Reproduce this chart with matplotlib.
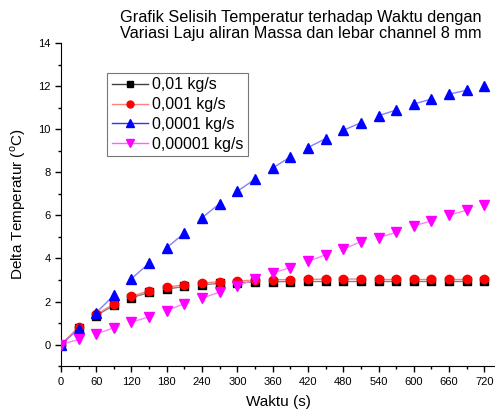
import matplotlib
matplotlib.use("Agg")
import matplotlib.pyplot as plt
from matplotlib.lines import Line2D
from matplotlib.ticker import MultipleLocator

plt.rcParams['font.family'] = ['Liberation Sans', 'DejaVu Sans']

# data (waktu dalam detik)
waktu = [0, 30, 60, 90, 120, 150, 180, 210, 240, 270, 300, 330, 360,
         390, 420, 450, 480, 510, 540, 570, 600, 630, 660, 690, 720]
dt_001 = [0, 0.75, 1.35, 1.82, 2.18, 2.42, 2.58, 2.70, 2.78, 2.84, 2.88, 2.91, 2.92,
          2.93, 2.94, 2.94, 2.95, 2.95, 2.95, 2.95, 2.95, 2.95, 2.95, 2.95, 2.95]
dt_0001 = [0, 0.81, 1.40, 1.88, 2.24, 2.50, 2.66, 2.78, 2.86, 2.92, 2.96, 2.99, 3.01,
           3.02, 3.03, 3.04, 3.04, 3.05, 3.05, 3.05, 3.05, 3.05, 3.05, 3.05, 3.05]
dt_00001 = [0, 0.72, 1.48, 2.29, 3.06, 3.78, 4.50, 5.18, 5.89, 6.55, 7.12, 7.68, 8.20,
            8.71, 9.15, 9.56, 9.95, 10.30, 10.63, 10.89, 11.17, 11.40, 11.63, 11.81, 12.02]
dt_000001 = [0, 0.24, 0.50, 0.78, 1.04, 1.29, 1.58, 1.90, 2.16, 2.44, 2.70, 3.06, 3.32,
             3.58, 3.86, 4.17, 4.43, 4.78, 4.97, 5.21, 5.52, 5.74, 6.01, 6.24, 6.50]
labels = ["0,01 kg/s", "0,001 kg/s", "0,0001 kg/s", "0,00001 kg/s"]

seri = [
    (dt_001, "s", 5.5, "black", "#808080", "#404040"),
    (dt_0001, "o", 6, "red", "#ff8080", "#ff8080"),
    (dt_00001, "^", 6.5, "blue", "#8080ff", "#3030ff"),
    (dt_000001, "v", 6.5, "magenta", "#ff80ff", "#ff60ff"),
]

fig = plt.figure(figsize=(4.95, 4.18), dpi=100)
ax = fig.add_axes([0.123, 0.124, 0.877, 0.773])

handles = []
for (y, m, ms, c, lc, lgc), lab in zip(seri, labels):
    # garis hanya antar pasangan titik
    for i in range(0, len(waktu) - 1, 2):
        ax.plot(waktu[i:i+2], y[i:i+2], color=lc, lw=1, zorder=2)
    ax.plot(waktu, y, ls="none", marker=m, ms=ms, mfc=c, mec=c, zorder=3)
    handles.append(Line2D([], [], color=lgc, lw=1, marker=m, ms=ms - 1,
                          mfc=c, mec=c))

ax.set_xlim(0, 738)
ax.set_ylim(-1, 14)
ax.xaxis.set_major_locator(MultipleLocator(60))
ax.xaxis.set_minor_locator(MultipleLocator(30))
ax.yaxis.set_major_locator(MultipleLocator(2))
ax.yaxis.set_minor_locator(MultipleLocator(1))
ax.tick_params(which="major", direction="out", length=4, width=1, labelsize=8)
ax.tick_params(which="minor", direction="out", length=2, width=1)
ax.spines["top"].set_visible(False)
ax.spines["right"].set_visible(False)

ax.set_xlabel("Waktu (s)", fontsize=11, labelpad=6)
ax.set_ylabel(r"Delta Temperatur ($^{\mathregular{o}}$C)", fontsize=11, labelpad=7)

leg = ax.legend(handles, labels, loc="upper left", bbox_to_anchor=(0.216, 0.826),
                bbox_transform=fig.transFigure, fontsize=11.4, frameon=True,
                fancybox=False, edgecolor="#555555", handlelength=2.3,
                handletextpad=0.25, borderpad=0.3, labelspacing=0.3,
                borderaxespad=0)
leg.get_frame().set_linewidth(0.8)

fig.text(0.608, 0.976, "Grafik Selisih Temperatur terhadap Waktu dengan\n"
         "Variasi Laju aliran Massa dan lebar channel 8 mm",
         ha="center", va="top", fontsize=11.7, linespacing=1.1)

fig.savefig("out.png", dpi=100)
